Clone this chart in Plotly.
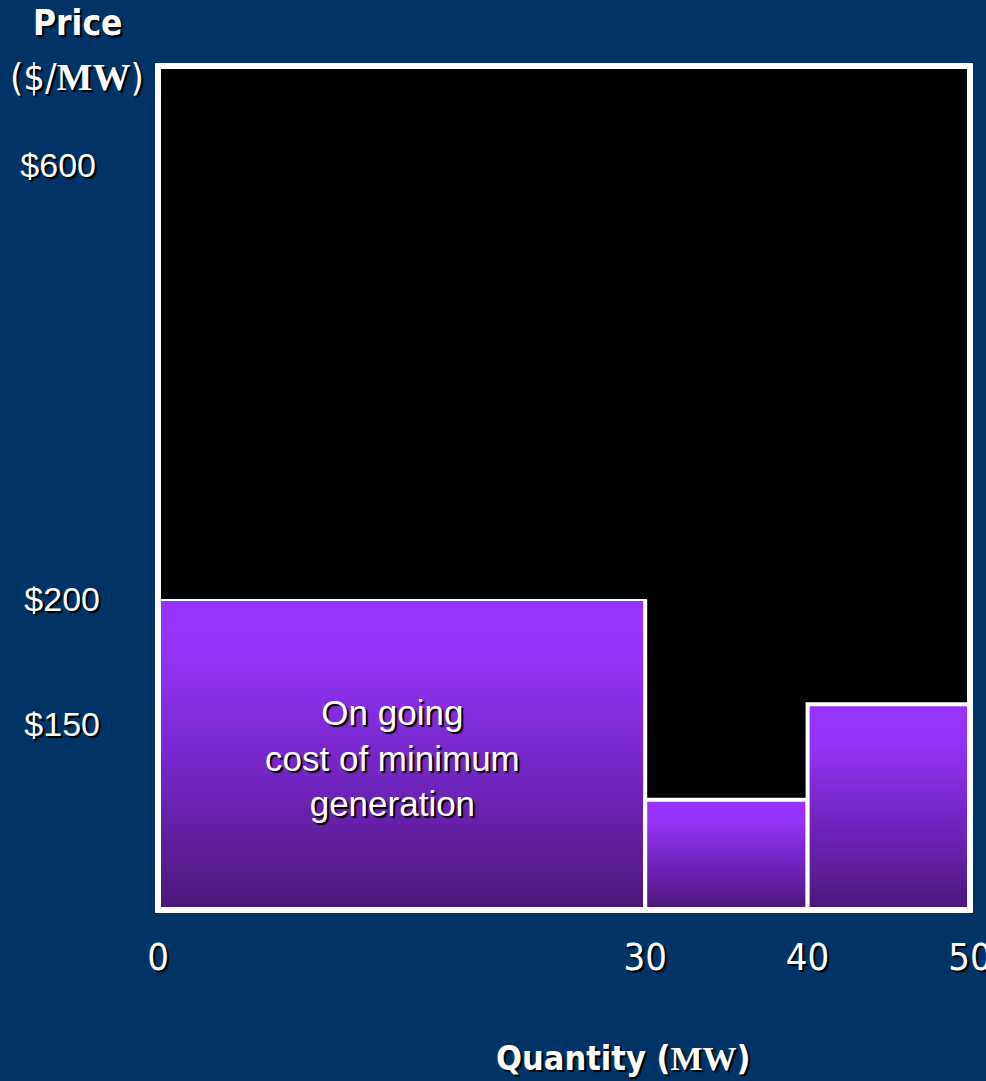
import plotly.graph_objects as go

# ---- data ----
quantity_start = [0, 30, 40]          # MW
quantity_end = [30, 40, 50]           # MW
block_price = [200, 120, 158]         # $/MW (schematic)
price_ticks = [150, 200, 600]         # $/MW tick labels
quantity_ticks = [0, 30, 40, 50]      # MW tick labels
bar_label = "On going<br>cost of minimum<br>generation"

# ---- style ----
BG = "#003366"
NARROW = "Liberation Sans Narrow, Arial Narrow, DejaVu Sans Condensed, sans-serif"
SANS = "Liberation Sans, Arial, sans-serif"
SERIF = "Liberation Serif, Times New Roman, serif"
SHADOW = "2px 2px 1px #000000"
BREAK = 200           # axis break between lower (detailed) and upper (compressed) price scale
LOWER_MIN = 76
UPPER_MAX = 691
lower_frac = 0.3685

fig = go.Figure()

for a, b, h in zip(quantity_start, quantity_end, block_price):
    fig.add_trace(go.Scatter(
        x=[a, a, b, b, a],
        y=[LOWER_MIN, h, h, LOWER_MIN, LOWER_MIN],
        mode="lines",
        fill="toself",
        fillgradient=dict(type="vertical",
                          colorscale=[[0, "#4b1777"], [0.45, "#7326c4"],
                                      [0.8, "#9331f5"], [1, "#9933ff"]]),
        line=dict(color="white", width=4),
        hoverinfo="skip",
        showlegend=False,
        xaxis="x", yaxis="y",
    ))

# empty trace to host the upper price axis
fig.add_trace(go.Scatter(x=[], y=[], xaxis="x", yaxis="y2", showlegend=False))

lower_ticks = [p for p in price_ticks if p <= BREAK]
upper_ticks = [p for p in price_ticks if p > BREAK]
tickfont = dict(family=SANS, size=34, color="white", shadow=SHADOW)

fig.update_layout(
    width=986, height=1081, autosize=False,
    paper_bgcolor=BG, plot_bgcolor="black",
    margin=dict(l=158, r=16, t=66, b=171),
    showlegend=False,
    xaxis=dict(
        range=[0, 50], tickvals=quantity_ticks,
        ticktext=[str(q) for q in quantity_ticks],
        showgrid=False, zeroline=False, showline=False, ticks="",
        tickfont=dict(family=NARROW, size=38, color="white", shadow=SHADOW),
        ticklabelstandoff=21, ticklabeloverflow="allow",
        automargin=False, anchor="y",
    ),
    yaxis=dict(
        domain=[0, lower_frac], range=[LOWER_MIN, BREAK],
        tickvals=lower_ticks, ticktext=[f"${p}" for p in lower_ticks],
        showgrid=False, zeroline=False, showline=False, ticks="",
        tickfont=tickfont, ticklabelstandoff=57,
        automargin=False, anchor="x",
    ),
    yaxis2=dict(
        domain=[lower_frac, 1], range=[BREAK, UPPER_MAX],
        tickvals=upper_ticks, ticktext=[f"${p}" for p in upper_ticks],
        showgrid=False, zeroline=False, showline=False, ticks="",
        tickfont=tickfont, ticklabelstandoff=61,
        automargin=False, anchor="x",
    ),
    shapes=[
        dict(type="rect", xref="paper", yref="paper", x0=0, x1=1, y0=0, y1=1,
             line=dict(color="white", width=6), fillcolor="rgba(0,0,0,0)",
             layer="above"),
    ],
    annotations=[
        dict(text="Price", xref="paper", yref="paper",
             x=(77 - 158) / 812, y=1.0 + (66 - 23) / 844, xanchor="center", yanchor="middle",
             showarrow=False,
             font=dict(family=NARROW, size=35, color="white", weight="bold", shadow=SHADOW)),
        dict(text=f"($/<span style='font-family:{SERIF};font-weight:bold'>MW</span>)",
             xref="paper", yref="paper",
             x=(77 - 158) / 812, y=1.0 + (66 - 77) / 844, xanchor="center", yanchor="middle",
             showarrow=False,
             font=dict(family=NARROW, size=38, color="white", shadow=SHADOW)),
        dict(text=f"Quantity (<span style='font-family:{SERIF}'>MW</span>)",
             xref="paper", yref="paper",
             x=(623 - 158) / 812, y=-(1058 - 910) / 844, xanchor="center", yanchor="middle",
             showarrow=False,
             font=dict(family=NARROW, size=34, color="white", weight="bold", shadow=SHADOW)),
        dict(text=bar_label, xref="x", yref="paper",
             x=(quantity_start[0] + quantity_end[0]) / 2, xshift=-9,
             y=(910 - 758) / 844, xanchor="center", yanchor="middle",
             showarrow=False, align="center",
             font=dict(family=SANS, size=35, color="white", shadow=SHADOW)),
    ],
)

fig.write_html(
    "out.html",
    config={"displayModeBar": False, "responsive": False},
    default_width="986px",
    default_height="1081px",
    post_script=(
        "document.documentElement.style.margin='0';"
        "document.documentElement.style.overflow='hidden';"
        "document.documentElement.style.background='#003366';"
        "document.body.style.margin='0';"
        "document.body.style.overflow='hidden';"
        "document.body.style.background='#003366';"
    ),
)
